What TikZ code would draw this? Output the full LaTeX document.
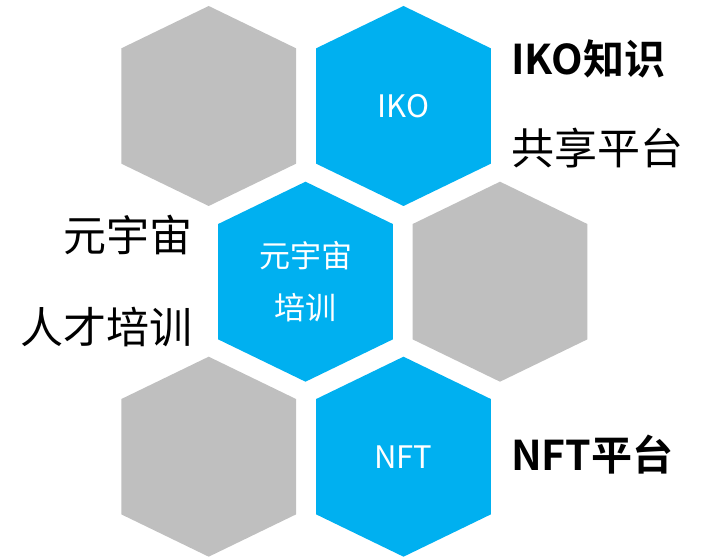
\documentclass[tikz,border=0pt]{standalone}
\usepackage{fontspec}
\setmainfont{Noto Sans CJK SC}
\newfontfamily\cjkbold{Noto Sans CJK SC Bold}
\definecolor{hexgray}{HTML}{BFBFBF}
\definecolor{hexblue}{HTML}{00B0F0}
\newcommand{\hexfill}[2]{\fill[#1] (#2) ++(0,100) -- ++(87.3,-42.3) -- ++(0,-115.4) -- ++(-87.3,-42.3) -- ++(-87.3,42.3) -- ++(0,115.4) -- cycle;}
\tikzset{
  hextext/.style={text=white, align=center, font=\fontsize{31}{52}\selectfont, inner sep=0pt},
  sidelabel/.style={text=black, font=\fontsize{43}{50}\selectfont, inner sep=0pt},
  sidebold/.style={text=black, font=\fontsize{41}{50}\selectfont\cjkbold, inner sep=0pt}
}
\begin{document}
\begin{tikzpicture}[x=1pt,y=1pt]
\useasboundingbox (0,0) rectangle (709,557);
\coordinate (A) at (208.7,451);
\coordinate (B) at (403.5,451);
\coordinate (C) at (305.5,275.3);
\coordinate (D) at (500,275.3);
\coordinate (E) at (208.7,100.3);
\coordinate (F) at (403.5,100.3);
\hexfill{hexgray}{A}
\hexfill{hexblue}{B}
\hexfill{hexblue}{C}
\hexfill{hexgray}{D}
\hexfill{hexgray}{E}
\hexfill{hexblue}{F}
\node[hextext] (tiko) at (B) {IKO};
\node[hextext] (tmeta) at (C) {元宇宙\\培训};
\node[hextext] (tnft) at (F) {NFT};
\node[sidebold, anchor=west] (l1) at (511,498) {IKO知识};
\node[sidelabel, anchor=west] (l2) at (511,409) {共享平台};
\node[sidebold, anchor=west] (l3) at (511,102) {NFT平台};
\node[sidelabel, anchor=east] (l4) at (193,322) {元宇宙};
\node[sidelabel, anchor=east] (l5) at (193,230) {人才培训};
\end{tikzpicture}
\end{document}
